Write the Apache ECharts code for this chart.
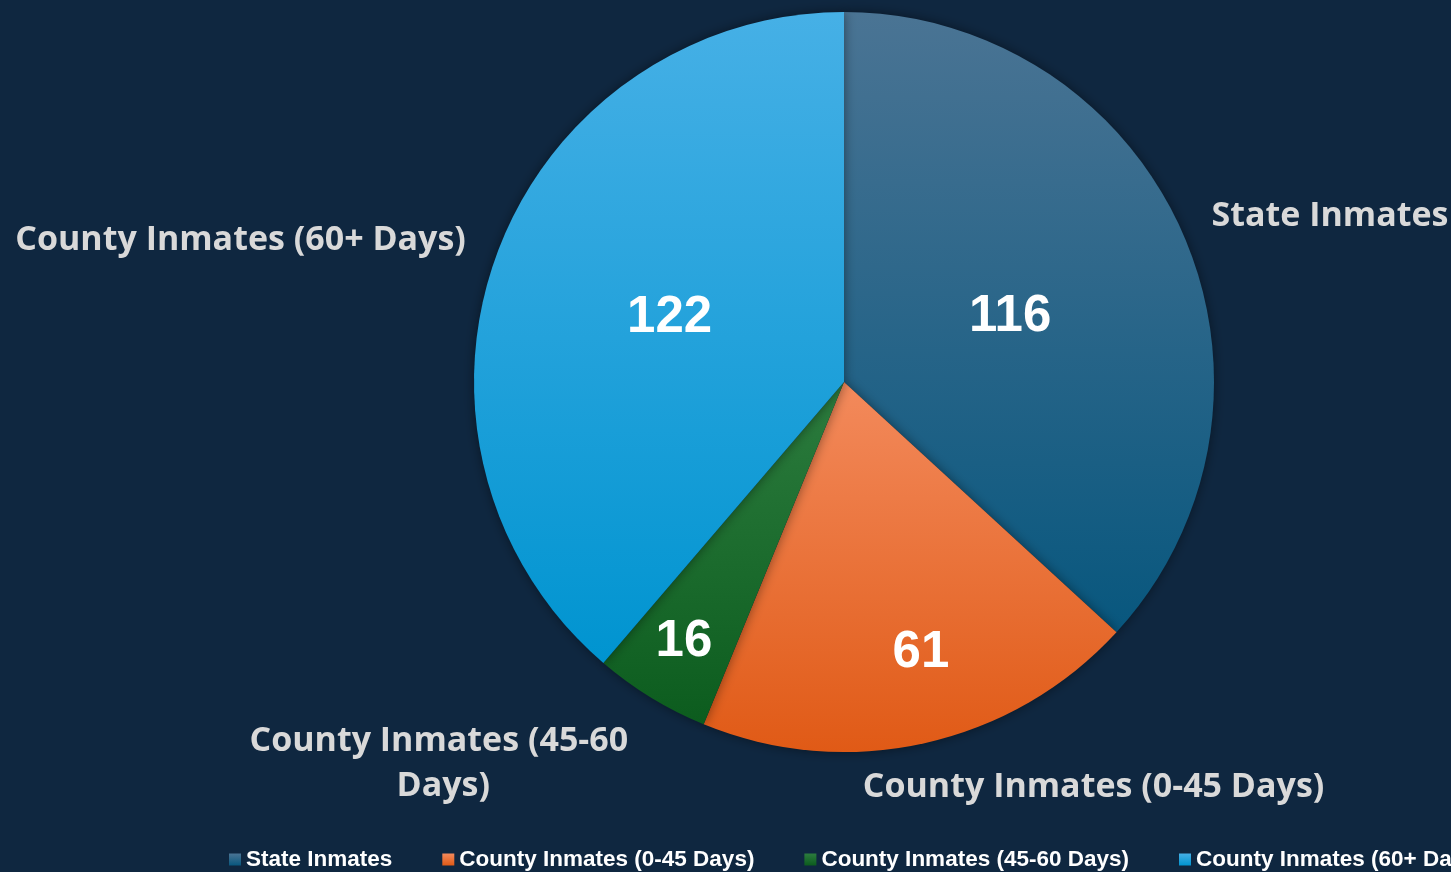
<!DOCTYPE html>
<html>
<head>
<meta charset="utf-8">
<script src="https://cdn.jsdelivr.net/npm/echarts@6/dist/echarts.min.js"></script>
<style>
  html, body { margin: 0; padding: 0; background: #0f2740; }
  #main { width: 1451px; height: 872px; }
</style>
</head>
<body>
<div id="main"></div>
<script>
const categories = ['State Inmates', 'County Inmates (0-45 Days)', 'County Inmates (45-60 Days)', 'County Inmates (60+ Days)'];
const values = [116, 61, 16, 122];
// top / bottom colours of each slice gradient
const topColors = ['#4a7494', '#f38a5c', '#2c7c3e', '#46b0e6'];
const bottomColors = ['#08577e', '#e05a16', '#0c5c1e', '#0094d0'];

const grad = (i) => new echarts.graphic.LinearGradient(0, 0, 0, 1, [
  { offset: 0, color: topColors[i] },
  { offset: 1, color: bottomColors[i] }
]);

// Excel's "best fit" puts the small-slice numbers further out
const valueNudge = [
  { dx: -6, dy: 11 },
  { dx: 36, dy: 87 },
  { dx: -62, dy: 100 },
  { dx: 2, dy: 1 }
];
// nudges for the outside labels, roughly where Excel put them
const labelNudge = [
  { dx: 10, dy: -11 },
  { dx: -70, dy: 30 },
  { dx: -195, dy: 53, align: 'center' },
  { dx: -12, dy: -8 }
];

const chart = echarts.init(document.getElementById('main'));

const option = {
  backgroundColor: '#0f2740',
  animation: false,
  legend: {
    left: 224,
    bottom: -4,
    width: 1600,
    itemWidth: 12,
    itemHeight: 12,
    itemGap: 50,
    icon: 'rect',
    data: categories,
    textStyle: {
      color: '#ffffff',
      fontFamily: 'Liberation Sans',
      fontWeight: 'bold',
      fontSize: 22.5
    }
  },
  series: [
    {
      name: 'values',
      type: 'pie',
      center: [844, 382],
      radius: 370,
      startAngle: 90,
      clockwise: true,
      silent: true,
      itemStyle: {
        shadowBlur: 12,
        shadowColor: 'rgba(0,0,0,0.45)'
      },
      label: {
        show: true,
        position: 'inside',
        formatter: '{c}',
        color: '#ffffff',
        fontFamily: 'Liberation Sans',
        fontWeight: 'bold',
        fontSize: 51
      },
      labelLine: { show: false },
      labelLayout: (params) => valueNudge[params.dataIndex],
      data: categories.map((name, i) => ({
        name: name,
        value: values[i],
        itemStyle: { color: grad(i) }
      }))
    },
    {
      name: 'names',
      type: 'pie',
      center: [844, 382],
      radius: 370,
      startAngle: 90,
      clockwise: true,
      silent: true,
      itemStyle: { color: 'rgba(0,0,0,0)' },
      label: {
        show: true,
        position: 'outside',
        formatter: '{b}',
        color: '#d9d9d9',
        fontFamily: 'Open Sans',
        fontWeight: 'bold',
        fontSize: 34,
        lineHeight: 45
      },
      labelLine: { show: false, length: 15, length2: 0 },
      labelLayout: (params) => labelNudge[params.dataIndex],
      data: categories.map((name, i) => ({
        name: name,
        value: values[i],
        label: i === 2 ? { width: 410, overflow: 'break' } : undefined
      }))
    }
  ]
};

chart.setOption(option);
</script>
</body>
</html>
